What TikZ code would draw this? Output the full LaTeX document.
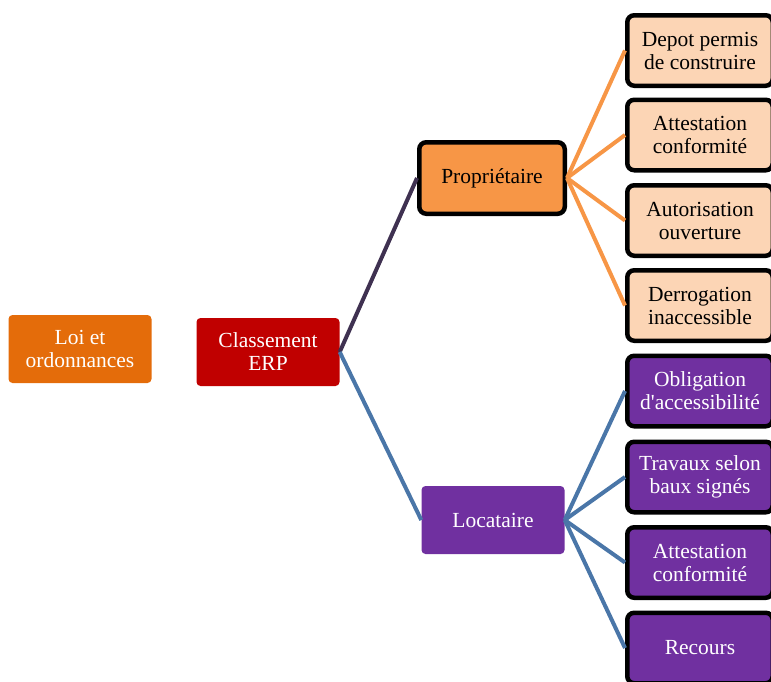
\documentclass[tikz,border=0pt]{standalone}
\usepackage{fontspec}
\setmainfont{Liberation Serif}
\usetikzlibrary{positioning}
\definecolor{loiorange}{HTML}{E46C0A}
\definecolor{erpred}{HTML}{C00000}
\definecolor{proporange}{HTML}{F79646}
\definecolor{propkid}{HTML}{FCD5B5}
\definecolor{locpurple}{HTML}{7030A0}
\definecolor{darkline}{HTML}{3F3151}
\definecolor{blueline}{HTML}{4A76A8}

\begin{document}
\begin{tikzpicture}[x=1pt,y=-1pt,
	box/.style={rounded corners=4pt, align=center, inner sep=0pt,
		font=\fontsize{21.5}{23}\selectfont},
	flat/.style={box, minimum width=143pt, minimum height=68pt},
	framed/.style={box, draw=black, line width=4.5pt, rounded corners=7pt,
		minimum width=145.5pt, minimum height=70.5pt},
	link/.style={line width=4pt}]
	\useasboundingbox (0,0) rectangle (771,681);
	%
	\node[flat, fill=loiorange, text=white] (loi) at (80,349) {Loi et\\ordonnances};
	\node[flat, fill=erpred, text=white] (erp) at (268,352) {Classement\\ERP};
	\node[framed, fill=proporange, minimum height=71.5pt] (prop) at (492,178) {Propriétaire};
	\node[flat, fill=locpurple, text=white] (loc) at (493,520) {Locataire};
	%
	\node[framed, fill=propkid] (depot) at (700,50.5) {Depot permis\\de construire};
	\node[framed, fill=propkid] (attp) at (700,135) {Attestation\\conformité};
	\node[framed, fill=propkid] (autor) at (700,220.5) {Autorisation\\ouverture};
	\node[framed, fill=propkid] (derog) at (700,305.5) {Derrogation\\inaccessible};
	\node[framed, fill=locpurple, text=white] (oblig) at (700,391) {Obligation\\d\textquotesingle accessibilité};
	\node[framed, fill=locpurple, text=white] (trav) at (700,477) {Travaux selon\\baux signés};
	\node[framed, fill=locpurple, text=white] (attl) at (700,562.5) {Attestation\\conformité};
	\node[framed, fill=locpurple, text=white] (recours) at (700,648) {Recours};
	%
	\draw[link, darkline] (erp.east) -- (prop.west);
	\draw[link, blueline] (erp.east) -- (loc.west);
	\draw[link, proporange] (prop.east) -- (depot.west);
	\draw[link, proporange] (prop.east) -- (attp.west);
	\draw[link, proporange] (prop.east) -- (autor.west);
	\draw[link, proporange] (prop.east) -- (derog.west);
	\draw[link, blueline] (loc.east) -- (oblig.west);
	\draw[link, blueline] (loc.east) -- (trav.west);
	\draw[link, blueline] (loc.east) -- (attl.west);
	\draw[link, blueline] (loc.east) -- (recours.west);
\end{tikzpicture}
\end{document}
